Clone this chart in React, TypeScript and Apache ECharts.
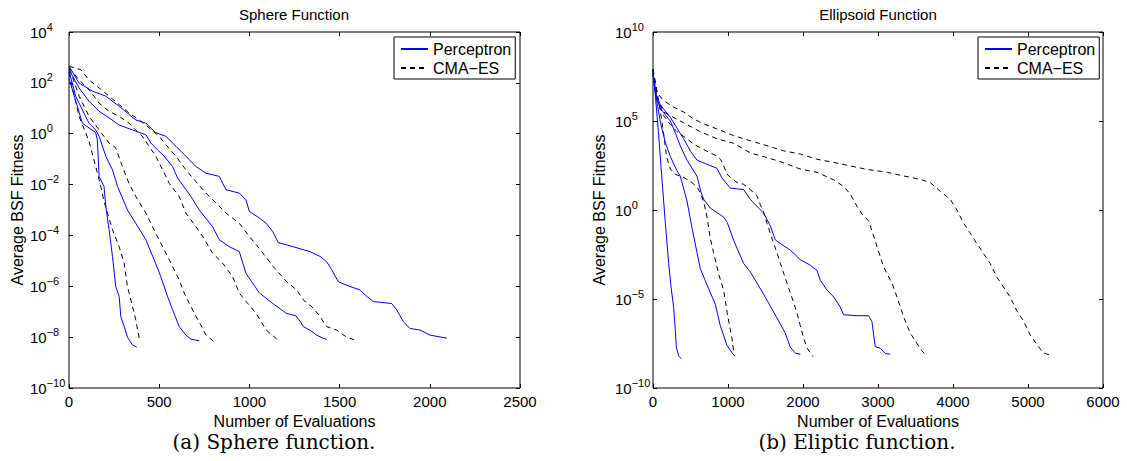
import React, { useEffect, useRef } from "react";
import * as echarts from "echarts";

// ---------- Sphere function (left) ----------
const sphereXTicks = { min: 0, max: 2500, interval: 500 };
const sphereYExp = { min: -10, max: 4, interval: 2 };

const sphereP1 = [[0, 1.5e2], [74, 2.6], [148, 1.1], [157, 0.58], [167, 0.021], [194, 8.5e-3], [204, 1.4e-3], [222, 1.7e-4], [241, 1.5e-5], [259, 9.8e-7], [278, 4.0e-7], [287, 6.5e-8], [306, 2.6e-8], [324, 1.0e-8], [352, 4.9e-9], [376, 4.0e-9]];
const sphereP2 = [[0, 3.0e2], [37, 30], [74, 8.7], [111, 2.6], [148, 1.4], [167, 0.79], [204, 0.13], [241, 0.038], [269, 8.5e-3], [324, 1.0e-3], [370, 3.0e-4], [426, 6.8e-5], [472, 1.1e-5], [509, 2.4e-6], [546, 4.0e-7], [574, 1.2e-7], [611, 2.6e-8], [648, 1.2e-8], [676, 8.3e-9], [722, 7.2e-9]];
const sphereP3 = [[0, 3.3e2], [56, 63], [111, 19], [167, 7.6], [222, 4.2], [278, 2.2], [352, 1.4], [426, 0.91], [454, 0.43], [491, 0.23], [528, 0.13], [574, 0.051], [602, 0.018], [676, 3.4e-3], [722, 1.0e-3], [796, 2.2e-4], [833, 6.8e-5], [889, 3.6e-5], [944, 2.3e-5], [981, 3.2e-6], [1056, 5.4e-7], [1130, 2.1e-7], [1204, 8.7e-8], [1259, 6.8e-8], [1282, 4.1e-8], [1299, 2.6e-8], [1340, 1.8e-8], [1373, 1.2e-8], [1410, 8.9e-9], [1428, 8.3e-9]];
const sphereP4 = [[0, 4.5e2], [56, 98], [130, 47], [204, 30], [278, 12], [370, 3.5], [426, 2.6], [481, 1.1], [537, 0.79], [593, 0.32], [648, 0.13], [704, 0.051], [759, 0.028], [833, 0.021], [870, 6.3e-3], [944, 4.6e-3], [981, 2.5e-3], [1000, 8.7e-4], [1056, 4.8e-4], [1093, 3.0e-4], [1130, 1.4e-4], [1160, 5.2e-5], [1204, 4.3e-5], [1243, 3.6e-5], [1336, 2.3e-5], [1391, 1.5e-5], [1428, 9.3e-6], [1456, 4.5e-6], [1493, 1.5e-6], [1558, 9.8e-7], [1613, 7.2e-7], [1650, 4.0e-7], [1687, 2.5e-7], [1789, 2.1e-7], [1816, 1.2e-7], [1853, 4.1e-8], [1890, 2.2e-8], [1946, 1.9e-8], [2001, 1.2e-8], [2094, 9.1e-9]];

const sphereC1 = [[0, 2.5e2], [9, 1.3e2], [56, 4.8], [111, 0.5], [148, 0.051], [176, 8.5e-3], [194, 2.2e-3], [241, 1.7e-4], [278, 3.6e-5], [306, 8.1e-6], [324, 9.8e-7], [352, 1.6e-7], [370, 4.8e-8], [389, 9.1e-9]];
const sphereC2 = [[0, 3.5e2], [9, 2.8e2], [56, 30], [111, 4.8], [167, 1.4], [222, 0.43], [259, 0.28], [296, 0.051], [333, 0.011], [370, 3.4e-3], [426, 7.6e-4], [481, 1.2e-4], [519, 3.6e-5], [556, 1.1e-5], [611, 1.8e-6], [639, 5.4e-7], [667, 2.1e-7], [704, 6.5e-8], [731, 3.0e-8], [759, 1.2e-8], [815, 5.8e-9]];
const sphereC3 = [[0, 4.0e2], [56, 1.3e2], [111, 54], [167, 16], [222, 7.6], [278, 4.8], [333, 2.6], [370, 1.4], [407, 0.79], [444, 0.32], [481, 0.13], [519, 0.038], [556, 0.011], [611, 3.4e-3], [648, 7.6e-4], [704, 2.2e-4], [741, 9.1e-5], [796, 2.0e-5], [852, 8.1e-6], [907, 2.4e-6], [944, 5.4e-7], [991, 2.1e-7], [1037, 8.7e-8], [1093, 1.9e-8], [1157, 7.8e-9]];
const sphereC4 = [[0, 4.5e2], [65, 3.3e2], [111, 1.3e2], [167, 63], [222, 30], [278, 14], [333, 6.5], [389, 3.5], [444, 1.7], [500, 0.79], [537, 0.37], [593, 0.13], [648, 0.038], [704, 0.013], [759, 4.6e-3], [815, 1.9e-3], [870, 7.6e-4], [944, 3.0e-4], [1000, 9.1e-5], [1056, 3.0e-5], [1132, 6.0e-6], [1207, 1.5e-6], [1262, 7.2e-7], [1299, 2.9e-7], [1354, 1.4e-7], [1391, 6.5e-8], [1428, 2.6e-8], [1484, 1.9e-8], [1539, 1.0e-8], [1595, 7.2e-9]];

// ---------- Ellipsoid function (right) ----------
const ellipXTicks = { min: 0, max: 6000, interval: 1000 };
const ellipYExp = { min: -10, max: 10, interval: 5 };

const ellipP1 = [[0, 6e7], [31, 2.8e6], [76, 1.6e4], [120, 50], [164, 0.2], [209, 1.0e-3], [240, 5.0e-5], [276, 3.2e-6], [298, 1.6e-7], [311, 2.0e-8], [342, 6.3e-9], [378, 4.4e-9]];
const ellipP2 = [[0, 4e7], [53, 1.2e6], [98, 8.5e4], [164, 6.3e3], [231, 1.0e3], [320, 1.6e2], [364, 79], [453, 3.2], [520, 0.1], [587, 4.0e-3], [631, 5.0e-4], [720, 6.3e-5], [831, 5.0e-6], [897, 3.2e-7], [986, 2.5e-8], [1050, 1.0e-8], [1088, 6.3e-9]];
const ellipP3 = [[0, 4e7], [40, 2.5e6], [100, 5.0e5], [231, 1.0e5], [300, 2.0e4], [364, 4.0e3], [453, 6.3e2], [587, 79], [640, 10], [675, 4.0], [764, 1.3], [941, 0.4], [990, 0.2], [1075, 0.02], [1208, 1.0e-3], [1300, 3.2e-4], [1386, 7.9e-5], [1470, 2.0e-5], [1564, 4.0e-6], [1697, 4.0e-7], [1760, 1.3e-7], [1830, 2.0e-8], [1900, 8.9e-9], [1964, 7.9e-9]];
const ellipP4 = [[0, 5e7], [40, 3.2e6], [100, 7.9e5], [231, 1.6e5], [408, 1.0e4], [500, 2.0e3], [587, 6.3e2], [700, 4.0e2], [853, 2.2e2], [920, 63], [1030, 17], [1208, 14], [1298, 4.0], [1341, 2.5], [1474, 0.68], [1564, 0.13], [1630, 0.021], [1698, 0.013], [1831, 5.6e-3], [1964, 1.6e-3], [2098, 7.9e-4], [2187, 4.0e-4], [2231, 1.1e-4], [2320, 3.2e-5], [2409, 1.3e-5], [2498, 3.5e-6], [2541, 1.3e-6], [2720, 1.15e-6], [2874, 1.15e-6], [2919, 5.4e-7], [2963, 2.1e-8], [3030, 1.7e-8], [3097, 8.7e-9], [3163, 7.9e-9]];

const ellipC1 = [[0, 8e7], [30, 1.6e7], [60, 3.2e6], [100, 3.2e5], [142, 2.0e4], [180, 1.0e3], [231, 2.0e2], [300, 1.0e2], [400, 71], [500, 40], [587, 20], [640, 7.9], [680, 2.5], [720, 0.4], [764, 0.025], [808, 4.0e-3], [876, 2.5e-4], [941, 3.2e-5], [990, 1.6e-6], [1030, 2.0e-7], [1053, 6.3e-8], [1075, 1.1e-8]];
const ellipC2 = [[0, 6.3e7], [30, 7.9e6], [60, 1.3e6], [142, 2.0e5], [231, 6.3e4], [320, 2.5e4], [453, 1.0e4], [542, 5.0e3], [675, 2.5e3], [764, 1.6e3], [853, 1.1e3], [900, 7.1e2], [941, 3.2e2], [987, 1.0e2], [1030, 71], [1120, 35], [1208, 28], [1298, 14], [1386, 6.3], [1431, 2.0], [1474, 0.79], [1520, 0.18], [1564, 0.05], [1609, 0.013], [1653, 4.0e-3], [1698, 1.0e-3], [1786, 7.9e-5], [1875, 6.3e-6], [1920, 1.6e-6], [1964, 3.2e-7], [2008, 6.3e-8], [2060, 1.6e-8], [2133, 5.8e-9]];
const ellipC3 = [[0, 8e7], [30, 6.3e6], [60, 1.6e6], [142, 3.2e5], [231, 2.0e5], [409, 7.9e4], [631, 2.5e4], [853, 1.0e4], [1075, 5.6e3], [1298, 1.6e3], [1520, 8.9e2], [1742, 4.5e2], [1964, 2.0e2], [2187, 1.3e2], [2409, 50], [2541, 21], [2630, 7.9], [2720, 1.6], [2800, 0.5], [2874, 0.25], [2930, 0.05], [2986, 8.9e-3], [3074, 6.6e-4], [3186, 7.8e-5], [3253, 1.3e-5], [3341, 1.0e-6], [3430, 1.2e-7], [3519, 3.2e-8], [3580, 1.3e-8], [3630, 7.9e-9]];
const ellipC4 = [[0, 8e7], [53, 4.0e6], [142, 1.4e6], [276, 6.0e5], [409, 3.2e5], [542, 1.3e5], [676, 6.9e4], [853, 3.6e4], [1075, 1.5e4], [1298, 7.8e3], [1520, 4.1e3], [1742, 2.1e3], [1964, 1.4e3], [2187, 7.1e2], [2409, 4.7e2], [2631, 3.0e2], [2853, 1.9e2], [3030, 1.5e2], [3124, 1.3e2], [3345, 81], [3566, 52], [3699, 34], [3832, 11], [3965, 3.9], [4053, 1.0], [4142, 0.18], [4230, 0.05], [4319, 0.013], [4407, 3.6e-3], [4496, 9.8e-4], [4584, 1.7e-4], [4673, 4.7e-5], [4761, 1.3e-5], [4850, 2.2e-6], [4938, 6.0e-7], [5027, 1.0e-7], [5115, 2.9e-8], [5204, 9.5e-9], [5292, 7.1e-9]];

const sphereSeries = { perceptron: [sphereP1, sphereP2, sphereP3, sphereP4], cma: [sphereC1, sphereC2, sphereC3, sphereC4] };
const ellipSeries = { perceptron: [ellipP1, ellipP2, ellipP3, ellipP4], cma: [ellipC1, ellipC2, ellipC3, ellipC4] };

const NAME_P = "Perceptron";
const NAME_C = "CMA\u2212ES";
const TITLES = ["Sphere Function", "Ellipsoid Function"];
const CAPTIONS = ["(a) Sphere function.", "(b) Eliptic function."];
const X_NAME = "Number of Evaluations";
const Y_NAME = "Average BSF Fitness";

const FONT = "'Liberation Sans', Arial, Helvetica, sans-serif";
const SERIF = "'DejaVu Serif', 'Liberation Serif', serif";
const BLUE = "#0000ff";

function expLabel(v: number) {
  const e = Math.round(v);
  const s = e < 0 ? "\u2212" + String(-e) : String(e);
  return "{b|10}{s|" + s + "}";
}

const richLabel = {
  b: { fontFamily: FONT, fontSize: 15, color: "#000" },
  s: { fontFamily: FONT, fontSize: 11, color: "#000", padding: [0, 0, 11, 0] },
};

function buildAxes(gridIndex: number, xr: any, yr: any, labelMargin: number, yNameGap: number) {
  const tick = { show: true, inside: true, length: 4, lineStyle: { color: "#000", width: 1 } };
  const noLine = { show: false, onZero: false };
  const xBottom = {
    type: "value", gridIndex, position: "bottom", min: xr.min, max: xr.max, interval: xr.interval,
    axisLine: noLine, axisTick: tick, splitLine: { show: false },
    axisLabel: { margin: 6, fontFamily: FONT, fontSize: 15, color: "#000", formatter: (v: number) => String(v) },
    name: X_NAME, nameLocation: "middle", nameGap: 21,
    nameTextStyle: { fontFamily: FONT, fontSize: 16, color: "#000" },
  };
  const xTop = {
    type: "value", gridIndex, position: "top", min: xr.min, max: xr.max, interval: xr.interval,
    axisLine: noLine, axisTick: tick, splitLine: { show: false }, axisLabel: { show: false },
  };
  const yLog = {
    type: "log", logBase: 10, gridIndex, min: Math.pow(10, yr.min), max: Math.pow(10, yr.max), show: false,
    axisLine: noLine, splitLine: { show: false },
  };
  const yLeft = {
    type: "value", gridIndex, position: "left", min: yr.min, max: yr.max, interval: yr.interval,
    axisLine: noLine, axisTick: tick, splitLine: { show: false },
    axisLabel: { margin: labelMargin, align: "left", formatter: expLabel, rich: richLabel },
    name: Y_NAME, nameLocation: "middle", nameGap: yNameGap,
    nameTextStyle: { fontFamily: FONT, fontSize: 16, color: "#000" },
  };
  const yRight = {
    type: "value", gridIndex, position: "right", min: yr.min, max: yr.max, interval: yr.interval,
    axisLine: noLine, axisTick: tick, splitLine: { show: false }, axisLabel: { show: false },
  };
  return { x: [xBottom, xTop], y: [yLog, yLeft, yRight] };
}

function buildSeries(set: any, xAxisIndex: number, yAxisIndex: number) {
  const out: any[] = [];
  set.perceptron.forEach((d: number[][]) => {
    out.push({
      type: "line", name: NAME_P, data: d, xAxisIndex, yAxisIndex, showSymbol: false, symbol: "none",
      lineStyle: { color: BLUE, width: 1 }, itemStyle: { color: BLUE }, silent: true, z: 3,
    });
  });
  set.cma.forEach((d: number[][]) => {
    out.push({
      type: "line", name: NAME_C, data: d, xAxisIndex, yAxisIndex, showSymbol: false, symbol: "none",
      lineStyle: { color: "#000", width: 1, type: [5, 4] }, itemStyle: { color: "#000" }, silent: true, z: 2,
    });
  });
  return out;
}

function legendAt(left: number) {
  return {
    data: [NAME_P, NAME_C], orient: "vertical", left, top: 37,
    padding: [4, 4, 3, 6], itemGap: 3, itemWidth: 27, itemHeight: 14,
    backgroundColor: "#fff", borderColor: "#000", borderWidth: 1, borderRadius: 0,
    textStyle: { fontFamily: FONT, fontSize: 16, color: "#000" },
    itemStyle: { opacity: 0 }, selectedMode: false,
  };
}

export default function App() {
  const ref = useRef<HTMLDivElement>(null);
  useEffect(() => {
    if (!ref.current) return;
    const chart = echarts.init(ref.current, undefined, { renderer: "svg" });
    const a = buildAxes(0, sphereXTicks, sphereYExp, 39, 44);
    const b = buildAxes(1, ellipXTicks, ellipYExp, 38, 46);
    const option: any = {
      animation: false,
      backgroundColor: "#fff",
      title: [
        { text: TITLES[0], left: 294, top: 7, textAlign: "center", padding: 0, textStyle: { fontFamily: FONT, fontSize: 15, fontWeight: "normal", color: "#000" } },
        { text: TITLES[1], left: 878, top: 7, textAlign: "center", padding: 0, textStyle: { fontFamily: FONT, fontSize: 15, fontWeight: "normal", color: "#000" } },
        { text: CAPTIONS[0], left: 274, top: 432, textAlign: "center", padding: 0, textStyle: { fontFamily: SERIF, fontSize: 20, fontWeight: "normal", color: "#000" } },
        { text: CAPTIONS[1], left: 857, top: 432, textAlign: "center", padding: 0, textStyle: { fontFamily: SERIF, fontSize: 20, fontWeight: "normal", color: "#000" } },
      ],
      legend: [legendAt(394), legendAt(978)],
      grid: [
        { left: 69, top: 32, width: 451, height: 356, show: true, borderColor: "#000", borderWidth: 1, backgroundColor: "#fff" },
        { left: 653, top: 32, width: 450, height: 356, show: true, borderColor: "#000", borderWidth: 1, backgroundColor: "#fff" },
      ],
      xAxis: [...a.x, ...b.x],
      yAxis: [...a.y, ...b.y],
      series: [...buildSeries(sphereSeries, 0, 0), ...buildSeries(ellipSeries, 2, 3)],
    };
    chart.setOption(option);
    return () => chart.dispose();
  }, []);
  return <div ref={ref} style={{ position: "absolute", left: 0, top: 0, width: 1127, height: 461, background: "#fff" }} />;
}
